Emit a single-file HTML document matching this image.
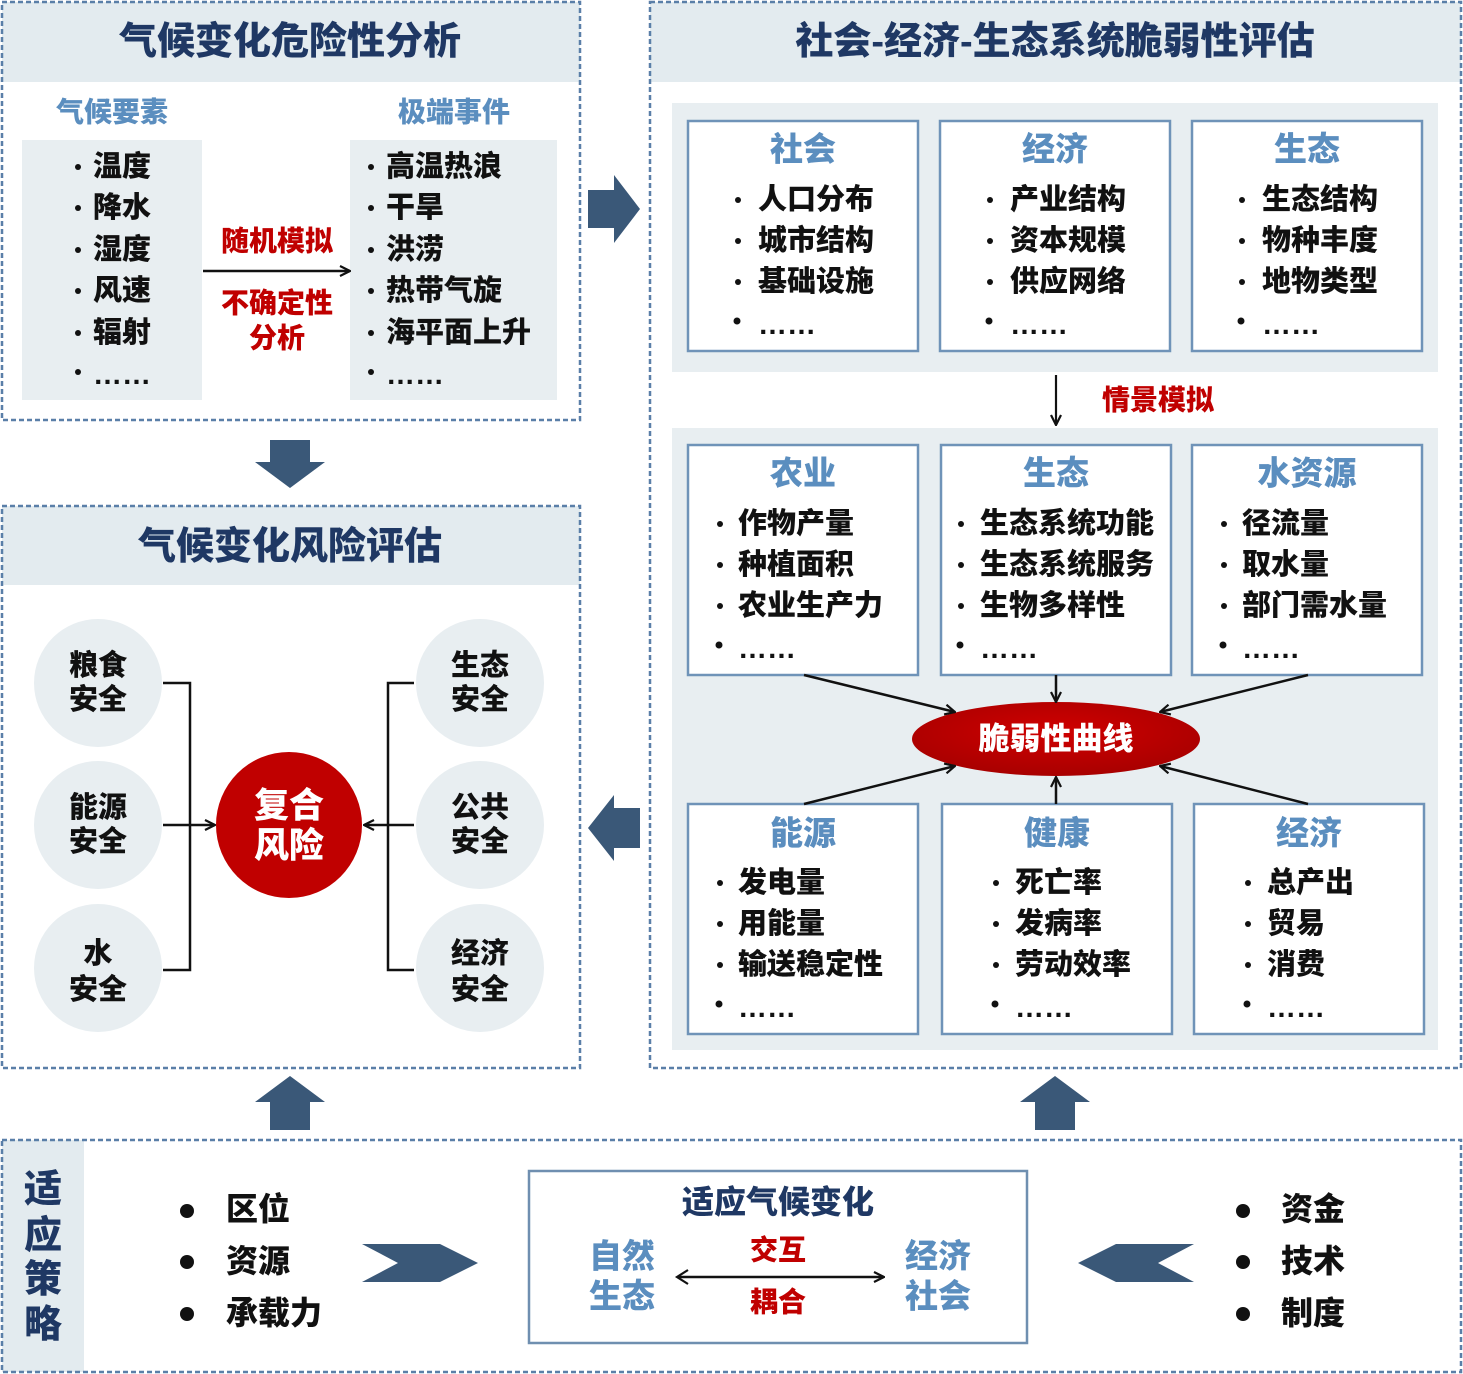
<!DOCTYPE html>
<html><head><meta charset="utf-8"><style>
html,body{margin:0;padding:0;background:#fff}
svg{display:block}
text{font-family:"Liberation Sans","Noto Sans CJK SC",sans-serif;font-weight:900}
.t{fill:#1f3864;font-size:38px}
.b{fill:#5b8ebf;font-size:33px}
.k{fill:#111;font-size:29px}
.r{fill:#c00000;font-size:28px}
.w{fill:#fff}
</style></head><body>
<svg width="1463" height="1374" viewBox="0 0 1463 1374" xmlns="http://www.w3.org/2000/svg" dominant-baseline="central">
<defs>
<marker id="ah" viewBox="0 0 12 12" refX="11" refY="6" markerWidth="12" markerHeight="12" markerUnits="userSpaceOnUse" orient="auto"><path d="M1,1 L11,6 L1,11" fill="none" stroke="#111" stroke-width="2.2"/></marker>
<radialGradient id="eg" cx="50%" cy="40%" r="60%"><stop offset="0" stop-color="#d00000"/><stop offset="1" stop-color="#a80000"/></radialGradient>
</defs>

<rect x="2" y="2" width="578" height="80" fill="#e3ebef"/>
<rect x="2" y="2" width="578" height="418" fill="none" stroke="#5a7fa8" stroke-width="2.5" stroke-dasharray="5,3"/>
<text class="t" x="290" y="42" text-anchor="middle">气候变化危险性分析</text>
<text class="b" x="112" y="112" text-anchor="middle" style="font-size:28px">气候要素</text>
<text class="b" x="454" y="112" text-anchor="middle" style="font-size:28px">极端事件</text>
<rect x="22" y="140" width="180" height="260" fill="#e8eef1"/>
<rect x="350" y="140" width="207" height="260" fill="#e8eef1"/>
<g fill="#111">
<circle cx="78" cy="167" r="3"/><circle cx="78" cy="208" r="3"/><circle cx="78" cy="250" r="3"/><circle cx="78" cy="291" r="3"/><circle cx="78" cy="333" r="3"/><circle cx="78" cy="372" r="3"/>
<circle cx="371" cy="167" r="3"/><circle cx="371" cy="208" r="3"/><circle cx="371" cy="250" r="3"/><circle cx="371" cy="291" r="3"/><circle cx="371" cy="333" r="3"/><circle cx="371" cy="372" r="3"/>
</g>
<text class="k" x="93" y="167">温度</text>
<text class="k" x="93" y="208">降水</text>
<text class="k" x="93" y="250">湿度</text>
<text class="k" x="93" y="291">风速</text>
<text class="k" x="93" y="333">辐射</text>
<text class="k" x="93" y="375">……</text>
<text class="k" x="386" y="167">高温热浪</text>
<text class="k" x="386" y="208">干旱</text>
<text class="k" x="386" y="250">洪涝</text>
<text class="k" x="386" y="291">热带气旋</text>
<text class="k" x="386" y="333">海平面上升</text>
<text class="k" x="386" y="375">……</text>
<line x1="203" y1="271" x2="350" y2="271" stroke="#111" stroke-width="2.5" marker-end="url(#ah)"/>
<text class="r" x="277" y="241" text-anchor="middle">随机模拟</text>
<text class="r" x="277" y="303" text-anchor="middle">不确定性</text>
<text class="r" x="277" y="338" text-anchor="middle">分析</text>

<polygon points="588,190 614,190 614,175 640,209 614,243 614,228 588,228" fill="#3a5878"/>
<polygon points="270,440 310,440 310,462 325,462 290,488 255,462 270,462" fill="#3a5878"/>
<polygon points="640,808 614,808 614,795 588,828 614,861 614,848 640,848" fill="#3a5878"/>
<polygon points="270,1130 310,1130 310,1102 325,1102 290,1076 255,1102 270,1102" fill="#3a5878"/>
<polygon points="1035,1130 1075,1130 1075,1102 1090,1102 1055,1076 1020,1102 1035,1102" fill="#3a5878"/>

<rect x="2" y="506" width="578" height="79" fill="#e3ebef"/>
<rect x="2" y="506" width="578" height="562" fill="none" stroke="#5a7fa8" stroke-width="2.5" stroke-dasharray="5,3"/>
<text class="t" x="290" y="547" text-anchor="middle">气候变化风险评估</text>
<g fill="#e8eef1">
<circle cx="98" cy="683" r="64"/><circle cx="98" cy="825" r="64"/><circle cx="98" cy="968" r="64"/>
<circle cx="480" cy="683" r="64"/><circle cx="480" cy="825" r="64"/><circle cx="480" cy="968" r="64"/>
</g>
<text class="k" x="98" y="666" text-anchor="middle">粮食</text><text class="k" x="98" y="700" text-anchor="middle">安全</text>
<text class="k" x="98" y="808" text-anchor="middle">能源</text><text class="k" x="98" y="842" text-anchor="middle">安全</text>
<text class="k" x="98" y="954" text-anchor="middle">水</text><text class="k" x="98" y="990" text-anchor="middle">安全</text>
<text class="k" x="480" y="666" text-anchor="middle">生态</text><text class="k" x="480" y="700" text-anchor="middle">安全</text>
<text class="k" x="480" y="808" text-anchor="middle">公共</text><text class="k" x="480" y="842" text-anchor="middle">安全</text>
<text class="k" x="480" y="954" text-anchor="middle">经济</text><text class="k" x="480" y="990" text-anchor="middle">安全</text>
<circle cx="289" cy="825" r="73" fill="#c00000"/>
<text class="w" x="289" y="806" text-anchor="middle" font-size="35">复合</text>
<text class="w" x="289" y="846" text-anchor="middle" font-size="35">风险</text>
<g stroke="#111" stroke-width="2.5" fill="none">
<polyline points="163,683 190,683 190,970 163,970"/>
<line x1="163" y1="825" x2="215" y2="825" marker-end="url(#ah)"/>
<polyline points="414,683 388,683 388,970 414,970"/>
<line x1="414" y1="825" x2="364" y2="825" marker-end="url(#ah)"/>
</g>

<rect x="650" y="2" width="811" height="80" fill="#e3ebef"/>
<rect x="650" y="2" width="811" height="1066" fill="none" stroke="#5a7fa8" stroke-width="2.5" stroke-dasharray="5,3"/>
<text class="t" x="1055" y="42" text-anchor="middle">社会-经济-生态系统脆弱性评估</text>
<rect x="672" y="103" width="766" height="269" fill="#e8eef1"/>
<rect x="672" y="428" width="766" height="622" fill="#e8eef1"/>
<g fill="#fff" stroke="#6f93b8" stroke-width="2.5">
<rect x="688" y="121" width="230" height="230"/><rect x="940" y="121" width="230" height="230"/><rect x="1192" y="121" width="230" height="230"/>
<rect x="688" y="445" width="230" height="230"/><rect x="941" y="445" width="230" height="230"/><rect x="1192" y="445" width="230" height="230"/>
<rect x="688" y="804" width="230" height="230"/><rect x="942" y="804" width="230" height="230"/><rect x="1194" y="804" width="230" height="230"/>
</g>
<text class="b" x="803" y="149" text-anchor="middle">社会</text>
<text class="b" x="1055" y="149" text-anchor="middle">经济</text>
<text class="b" x="1307" y="149" text-anchor="middle">生态</text>
<text class="b" x="803" y="473" text-anchor="middle">农业</text>
<text class="b" x="1056" y="473" text-anchor="middle">生态</text>
<text class="b" x="1307" y="473" text-anchor="middle">水资源</text>
<text class="b" x="803" y="833" text-anchor="middle">能源</text>
<text class="b" x="1057" y="833" text-anchor="middle">健康</text>
<text class="b" x="1309" y="833" text-anchor="middle">经济</text>
<g fill="#111">
<circle cx="738" cy="200" r="3"/><circle cx="738" cy="241" r="3"/><circle cx="738" cy="282" r="3"/><circle cx="737" cy="321" r="3.5"/>
<circle cx="990" cy="200" r="3"/><circle cx="990" cy="241" r="3"/><circle cx="990" cy="282" r="3"/><circle cx="989" cy="321" r="3.5"/>
<circle cx="1242" cy="200" r="3"/><circle cx="1242" cy="241" r="3"/><circle cx="1242" cy="282" r="3"/><circle cx="1241" cy="321" r="3.5"/>
<circle cx="720" cy="524" r="3"/><circle cx="720" cy="565" r="3"/><circle cx="720" cy="606" r="3"/><circle cx="719" cy="645" r="3.5"/>
<circle cx="961" cy="524" r="3"/><circle cx="961" cy="565" r="3"/><circle cx="961" cy="606" r="3"/><circle cx="960" cy="645" r="3.5"/>
<circle cx="1224" cy="524" r="3"/><circle cx="1224" cy="565" r="3"/><circle cx="1224" cy="606" r="3"/><circle cx="1223" cy="645" r="3.5"/>
<circle cx="720" cy="883" r="3"/><circle cx="720" cy="924" r="3"/><circle cx="720" cy="965" r="3"/><circle cx="719" cy="1004" r="3.5"/>
<circle cx="996" cy="883" r="3"/><circle cx="996" cy="924" r="3"/><circle cx="996" cy="965" r="3"/><circle cx="995" cy="1004" r="3.5"/>
<circle cx="1248" cy="883" r="3"/><circle cx="1248" cy="924" r="3"/><circle cx="1248" cy="965" r="3"/><circle cx="1247" cy="1004" r="3.5"/>
</g>
<text class="k" x="758" y="200">人口分布</text><text class="k" x="758" y="241">城市结构</text><text class="k" x="758" y="282">基础设施</text><text class="k" x="758" y="325">……</text>
<text class="k" x="1010" y="200">产业结构</text><text class="k" x="1010" y="241">资本规模</text><text class="k" x="1010" y="282">供应网络</text><text class="k" x="1010" y="325">……</text>
<text class="k" x="1262" y="200">生态结构</text><text class="k" x="1262" y="241">物种丰度</text><text class="k" x="1262" y="282">地物类型</text><text class="k" x="1262" y="325">……</text>
<text class="k" x="738" y="524">作物产量</text><text class="k" x="738" y="565">种植面积</text><text class="k" x="738" y="606">农业生产力</text><text class="k" x="738" y="649">……</text>
<text class="k" x="980" y="524">生态系统功能</text><text class="k" x="980" y="565">生态系统服务</text><text class="k" x="980" y="606">生物多样性</text><text class="k" x="980" y="649">……</text>
<text class="k" x="1242" y="524">径流量</text><text class="k" x="1242" y="565">取水量</text><text class="k" x="1242" y="606">部门需水量</text><text class="k" x="1242" y="649">……</text>
<text class="k" x="738" y="883">发电量</text><text class="k" x="738" y="924">用能量</text><text class="k" x="738" y="965">输送稳定性</text><text class="k" x="738" y="1008">……</text>
<text class="k" x="1015" y="883">死亡率</text><text class="k" x="1015" y="924">发病率</text><text class="k" x="1015" y="965">劳动效率</text><text class="k" x="1015" y="1008">……</text>
<text class="k" x="1267" y="883">总产出</text><text class="k" x="1267" y="924">贸易</text><text class="k" x="1267" y="965">消费</text><text class="k" x="1267" y="1008">……</text>

<line x1="1056" y1="375" x2="1056" y2="425" stroke="#111" stroke-width="2.2" marker-end="url(#ah)"/>
<text class="r" x="1158" y="400" text-anchor="middle">情景模拟</text>

<ellipse cx="1056" cy="739" rx="144" ry="37" fill="url(#eg)"/>
<text class="w" x="1056" y="739" text-anchor="middle" font-size="31">脆弱性曲线</text>
<g stroke="#111" stroke-width="2.5" marker-end="url(#ah)">
<line x1="804" y1="675" x2="955" y2="712"/>
<line x1="1056" y1="675" x2="1056" y2="702"/>
<line x1="1308" y1="675" x2="1160" y2="712"/>
<line x1="804" y1="804" x2="955" y2="766"/>
<line x1="1056" y1="804" x2="1056" y2="777"/>
<line x1="1308" y1="804" x2="1160" y2="766"/>
</g>

<rect x="2" y="1140" width="82" height="232" fill="#e3ebef"/>
<rect x="2" y="1140" width="1459" height="232" fill="none" stroke="#5a7fa8" stroke-width="2.5" stroke-dasharray="5,3"/>
<text class="t" x="43" y="1190" text-anchor="middle">适</text>
<text class="t" x="43" y="1236" text-anchor="middle">应</text>
<text class="t" x="43" y="1280" text-anchor="middle">策</text>
<text class="t" x="43" y="1325" text-anchor="middle">略</text>
<g fill="#111">
<circle cx="187" cy="1211" r="7"/><circle cx="187" cy="1262" r="7"/><circle cx="187" cy="1314" r="7"/>
<circle cx="1243" cy="1211" r="7"/><circle cx="1243" cy="1262" r="7"/><circle cx="1243" cy="1314" r="7"/>
</g>
<text class="k" x="226" y="1209" style="font-size:32px">区位</text><text class="k" x="226" y="1261" style="font-size:32px">资源</text><text class="k" x="226" y="1313" style="font-size:32px">承载力</text>
<text class="k" x="1281" y="1209" style="font-size:32px">资金</text><text class="k" x="1281" y="1261" style="font-size:32px">技术</text><text class="k" x="1281" y="1313" style="font-size:32px">制度</text>
<polygon points="362,1244 440,1244 478,1263 440,1282 362,1282 398,1263" fill="#3a5878"/>
<polygon points="1194,1244 1116,1244 1078,1263 1116,1282 1194,1282 1158,1263" fill="#3a5878"/>
<rect x="529" y="1171" width="498" height="172" fill="#fff" stroke="#6f8fb0" stroke-width="2.5"/>
<text class="t" x="778" y="1202" text-anchor="middle" style="font-size:32px">适应气候变化</text>
<text class="b" x="622" y="1256" text-anchor="middle">自然</text>
<text class="b" x="622" y="1296" text-anchor="middle">生态</text>
<text class="b" x="938" y="1256" text-anchor="middle">经济</text>
<text class="b" x="938" y="1296" text-anchor="middle">社会</text>
<text class="r" x="778" y="1250" text-anchor="middle">交互</text>
<text class="r" x="778" y="1302" text-anchor="middle">耦合</text>
<line x1="678" y1="1277" x2="884" y2="1277" stroke="#111" stroke-width="2.5" marker-end="url(#ah)"/>
<polyline points="688,1270 677,1277 688,1284" fill="none" stroke="#111" stroke-width="2.2"/>
</svg>
</body></html>
